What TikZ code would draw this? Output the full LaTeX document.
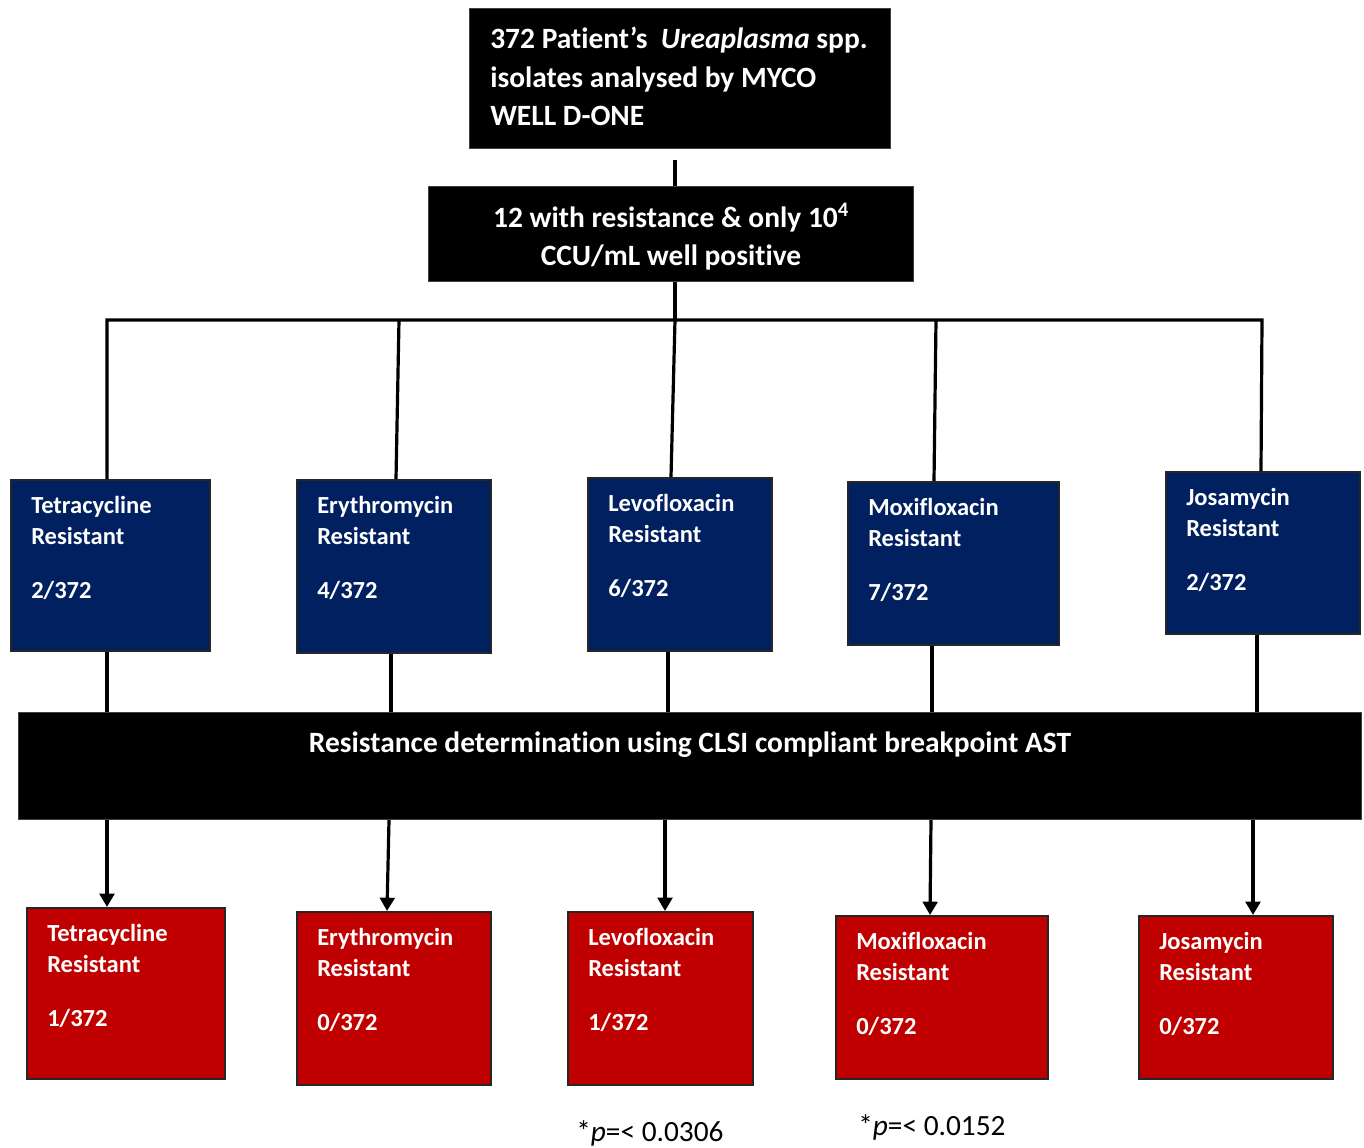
\documentclass[tikz,border=0pt]{standalone}
\usepackage{fontspec}
\setmainfont{Carlito}[Ligatures=NoCommon]
\usetikzlibrary{arrows.meta,calc}
\definecolor{navy}{HTML}{002060}
\definecolor{crimson}{HTML}{C00000}
% one drawing unit = one pixel = 0.75pt, y grows downward
\newcommand\drugbox[8]{%
  \node[#1, sz={#5}{#6}] (#2) at (#3,#4) {};
  \node[btxt] (#2-a) at ($(#2.north west)+(21,34)$) {#7};
  \node[btxt] (#2-b) at ($(#2.north west)+(21,65)$) {Resistant};
  \node[btxt] (#2-c) at ($(#2.north west)+(21,119)$) {#8};
}
\begin{document}
\begin{tikzpicture}[x=0.75pt,y=-0.75pt,
  sz/.style 2 args={minimum width=#1*0.75pt, minimum height=#2*0.75pt},
  blk/.style={fill=black, draw=black!75, line width=0.75pt, inner sep=0, anchor=north west},
  bluebox/.style={fill=navy, draw=black!85, line width=1.5pt, inner sep=0, anchor=north west},
  redbox/.style={fill=crimson, draw=black!85, line width=1.5pt, inner sep=0, anchor=north west},
  bigtxt/.style={text=white, font=\bfseries\fontsize{22.1}{26}\selectfont, inner sep=0},
  btxt/.style={text=white, font=\bfseries\fontsize{18.4}{22}\selectfont, inner sep=0, anchor=base west},
  ptxt/.style={font=\fontsize{22}{26}\selectfont, inner sep=0, anchor=base west},
  wire/.style={line width=2.4pt},
  arr/.style={wire, -{Triangle[width=11pt,length=10pt]}}]
\useasboundingbox (0,0) rectangle (1364,1147);
\fill[white] (0,0) rectangle (1364,1147);

% source box
\node[blk, sz={421}{140}] (src) at (469,8) {};
\node[bigtxt, anchor=base west] (src-a) at (490,48) {372 Patient’s\ \ \textit{Ureaplasma} spp.};
\node[bigtxt, anchor=base west] (src-b) at (490,87) {isolates analysed by MYCO};
\node[bigtxt, anchor=base west] (src-c) at (490,125) {WELL D-ONE};

% selection box
\node[blk, sz={485}{95}] (mid) at (428,186) {};
\node[bigtxt, anchor=base] (mid-a) at (671,227) {12 with resistance \& only 10\textsuperscript{4}};
\node[bigtxt, anchor=base] (mid-b) at (671,265) {CCU/mL well positive};

% screening results
\drugbox{bluebox}{b1}{10}{479}{199}{171}{Tetracycline}{2/372}
\drugbox{bluebox}{b2}{296}{479}{194}{173}{Erythromycin}{4/372}
\drugbox{bluebox}{b3}{587}{477}{184}{173}{Levofloxacin}{6/372}
\drugbox{bluebox}{b4}{847}{481}{211}{163}{Moxifloxacin}{7/372}
\drugbox{bluebox}{b5}{1165}{471}{194}{162}{Josamycin}{2/372}

% confirmation step
\node[blk, sz={1343}{107}] (bar) at (18,712) {};
\node[bigtxt, anchor=base] (bar-t) at (690,752) {Resistance determination using CLSI compliant breakpoint AST};

% confirmed results
\drugbox{redbox}{r1}{26}{907}{198}{171}{Tetracycline}{1/372}
\drugbox{redbox}{r2}{296}{911}{194}{173}{Erythromycin}{0/372}
\drugbox{redbox}{r3}{567}{911}{185}{173}{Levofloxacin}{1/372}
\drugbox{redbox}{r4}{835}{915}{212}{163}{Moxifloxacin}{0/372}
\drugbox{redbox}{r5}{1138}{915}{194}{163}{Josamycin}{0/372}

% significance notes
\node[ptxt] (p3) at (576,1141) {*\textit{p}=< 0.0306};
\node[ptxt] (p4) at (858,1135) {*\textit{p}=< 0.0152};

% trunk
\coordinate (s0) at (675,160);
\coordinate (s1) at (675,0);
\draw[wire] (s0) -- (s0 |- mid.north);
\coordinate (bus3) at (675,320);
\draw[wire] (s1 |- mid.south) -- (bus3);

% branches
\foreach \i/\xa/\xb/\xc/\xd/\xe/\xf in {
  1/107/107/107/107/107/107,
  2/399/396/391/391/389/387,
  3/675/671/668/668/665/665,
  4/936/934/932/932/931/930,
  5/1262/1261/1257/1257/1253/1253}{
  \coordinate (bus\i) at (\xa,320);
  \coordinate (ta\i) at (\xb,0);
  \coordinate (tb\i) at (\xc,0);
  \coordinate (tc\i) at (\xd,0);
  \coordinate (td\i) at (\xe,0);
  \coordinate (te\i) at (\xf,0);
  \draw[wire] (tb\i |- b\i.south) -- (tc\i |- bar.north);
  \draw[arr] (td\i |- bar.south) -- (te\i |- r\i.north);
}
\draw[wire] (ta1 |- b1.north) -- (bus1) -- (bus5) -- (ta5 |- b5.north);
\foreach \i in {2,3,4}{
  \draw[wire] (bus\i) -- (ta\i |- b\i.north);
}
\end{tikzpicture}
\end{document}
